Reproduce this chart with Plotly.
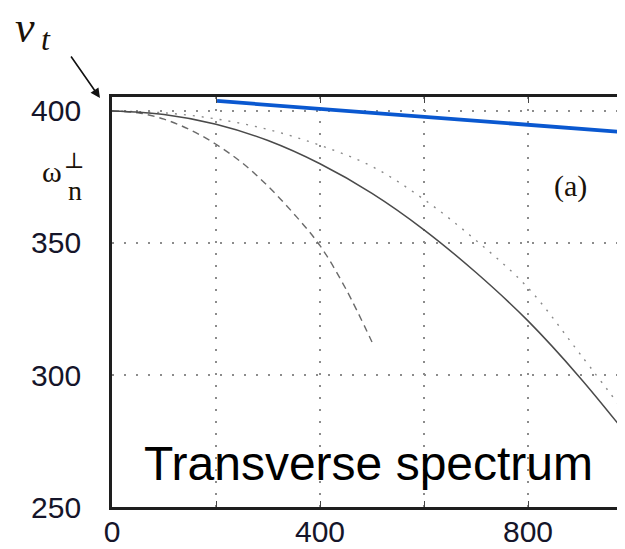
import plotly.graph_objects as go

# Data
solid_x = [0, 100, 200, 300, 400, 500, 600, 700, 800, 900, 1010]
solid_y = [400, 398.7, 395.0, 388.8, 380.0, 368.8, 355.0, 338.8, 320.5, 299.0, 272.5]

dashed_x = [0, 50, 100, 150, 200, 250, 300, 350, 400, 450, 500]
dashed_y = [400, 399.3, 396.9, 392.9, 387.4, 380.4, 371.5, 361.0, 349.0, 332.5, 312.5]

dotted_x = [0, 100, 200, 300, 400, 500, 600, 700, 800, 900, 1010]
dotted_y = [400, 399.3, 397.0, 393.0, 387.0, 379.0, 366.5, 351.0, 333.0, 308.0, 279.5]

blue_x = [202, 1010]
blue_y = [403.8, 391.6]

x_ticks = [0, 200, 400, 600, 800]
x_tick_text = ["0", "", "400", "", "800"]
y_ticks = [250, 300, 350, 400]
y_tick_text = ["250", "300", "350", "400"]

fig = go.Figure()
fig.add_trace(go.Scatter(x=dashed_x, y=dashed_y, mode="lines",
                         line=dict(color="#6a6a6a", width=1.4, dash="7px,5px"),
                         line_shape="spline", showlegend=False))
fig.add_trace(go.Scatter(x=dotted_x, y=dotted_y, mode="lines",
                         line=dict(color="#8a8a8a", width=1.4, dash="2px,7px"),
                         line_shape="spline", showlegend=False))
fig.add_trace(go.Scatter(x=solid_x, y=solid_y, mode="lines",
                         line=dict(color="#4a4a4a", width=1.5),
                         line_shape="spline", showlegend=False))
fig.add_trace(go.Scatter(x=blue_x, y=blue_y, mode="lines",
                         line=dict(color="#0a58d0", width=3.8),
                         showlegend=False))

tick_font = dict(family="Liberation Sans, Arial, sans-serif", size=30, color="#15152a")
serif = "Liberation Serif, Times New Roman, serif"
ink = "#1a1208"

# page body has an 8px margin, so the figure is offset by (8, 8) in the window
PLOT_W = 625 - 104
fig.update_layout(
    width=625, height=549,
    margin=dict(l=104, r=0, t=89, b=50, autoexpand=False),
    paper_bgcolor="white", plot_bgcolor="white",
    xaxis=dict(range=[0, PLOT_W / 0.52], tickvals=x_ticks, ticktext=x_tick_text,
               showgrid=True, gridcolor="#8c8c8c", gridwidth=1.5, griddash="2px,10px",
               showline=True, linecolor="#1e1e1e", linewidth=2.8, mirror="ticks",
               ticks="inside", ticklen=6, tickcolor="#444", tickwidth=1.2,
               tickfont=tick_font, zeroline=False, automargin=False,
               ticklabelstandoff=-4),
    yaxis=dict(range=[250, 405.3], tickvals=y_ticks, ticktext=y_tick_text,
               showgrid=True, gridcolor="#8c8c8c", gridwidth=1.5, griddash="2px,10px",
               showline=True, linecolor="#1e1e1e", linewidth=2.8, mirror=False,
               ticks="", tickfont=tick_font, zeroline=False, automargin=False,
               ticklabelstandoff=22),
)

# arrow pointing at the top-left corner of the frame
fig.add_annotation(x=-12 / PLOT_W, y=(410 - 1) / 410, xref="paper", yref="paper",
                   text="", showarrow=True, arrowhead=2, arrowsize=1.2, arrowwidth=1.6,
                   arrowcolor="#111", ax=-30, ay=-43)
# nu_t label
fig.add_annotation(x=0, y=1, xref="paper", yref="paper", xanchor="left", yanchor="middle",
                   text="<i>ν</i>", showarrow=False, xshift=-112 + 13, yshift=97 - 27,
                   font=dict(family=serif, size=44, color=ink))
fig.add_annotation(x=0, y=1, xref="paper", yref="paper", xanchor="left", yanchor="middle",
                   text="<i>t</i>", showarrow=False, xshift=-112 + 39, yshift=97 - 39,
                   font=dict(family=serif, size=32, color=ink))
# omega label
fig.add_annotation(x=0, y=1, xref="paper", yref="paper", xanchor="center", yanchor="middle",
                   text="ω", showarrow=False, xshift=-112 + 52, yshift=97 - 171,
                   font=dict(family=serif, size=30, color=ink))
fig.add_annotation(x=0, y=1, xref="paper", yref="paper", xanchor="center", yanchor="middle",
                   text="n", showarrow=False, xshift=-112 + 75, yshift=97 - 190,
                   font=dict(family=serif, size=28, color=ink))
fig.add_annotation(x=0, y=1, xref="paper", yref="paper", xanchor="center", yanchor="middle",
                   text="⊥", showarrow=False, xshift=-112 + 74, yshift=97 - 160,
                   font=dict(family="DejaVu Serif, serif", size=22, color=ink))
# (a)
fig.add_annotation(x=881, y=371.5, xref="x", yref="y", text="(a)", showarrow=False,
                   font=dict(family=serif, size=30, color=ink))
# Transverse spectrum
fig.add_annotation(x=(368.5 - 112) / 0.52, y=400 - (463 - 111) / 2.64, xref="x", yref="y",
                   text="Transverse spectrum", showarrow=False,
                   font=dict(family="Liberation Sans, Arial, sans-serif", size=48, color="#000"))

fig.write_html("out.html")
